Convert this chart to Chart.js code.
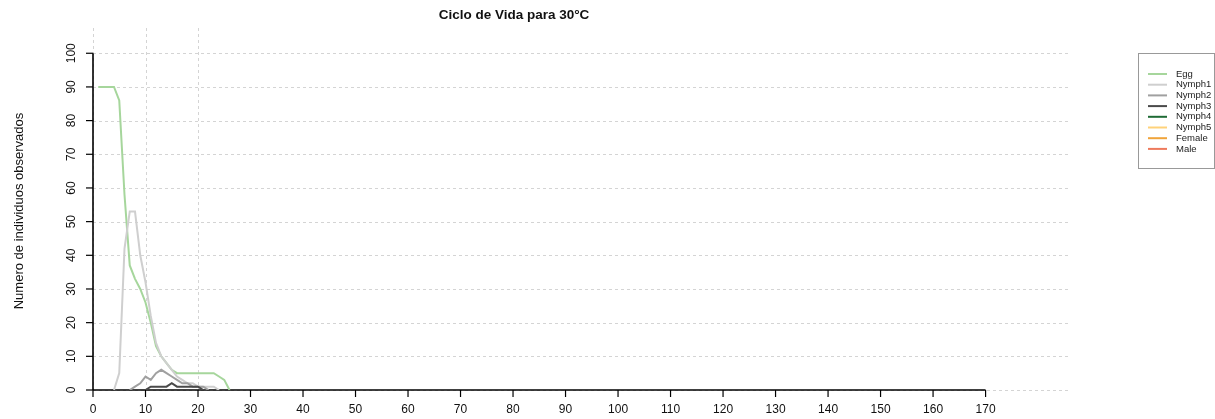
<!DOCTYPE html>
<html lang="es">
<head>
<meta charset="UTF-8" />
<title>Ciclo de Vida para 30°C</title>
<script src="https://cdn.jsdelivr.net/npm/chart.js@4.4.0/dist/chart.umd.min.js"></script>
<style>
  html, body { margin: 0; padding: 0; background: #fff; }
</style>
</head>
<body>
<canvas id="lifeCycle" width="1215" height="419"></canvas>
<script>
// days observed (x) and counts per stage (null = no observation)
const days = [0, 1, 2, 3, 4, 5, 6, 7, 8, 9, 10, 11, 12, 13, 14, 15, 16, 17, 18, 19, 20, 21, 22, 23, 24, 25, 26];
const egg    = [null, 90, 90, 90, 90, 86, 58, 37, 33, 30, 26, 20, 13, 10, 8, 6, 5, 5, 5, 5, 5, 5, 5, 5, 4, 3, 0];
const nymph1 = [null, null, null, null, 0, 5, 42, 53, 53, 40, 32, 22, 14, 10, 8, 6, 4, 3, 2, 2, 1, 1, 1, 1, 0, null, null];
const nymph2 = [null, null, null, null, null, null, null, 0, 1, 2, 4, 3, 5, 6, 5, 4, 3, 2, 2, 1, 1, 1, 0, null, null, null, null];
const nymph3 = [null, null, null, null, null, null, null, null, null, null, 0, 1, 1, 1, 1, 2, 1, 1, 1, 1, 1, 0, null, null, null, null, null];
const nymph4 = [];
const nymph5 = [];
const female = [];
const male   = [];

const stageNames = ["Egg", "Nymph1", "Nymph2", "Nymph3", "Nymph4", "Nymph5", "Female", "Male"];
const stageColors = ["#a6d69c", "#cfcfcf", "#a0a0a0", "#4a4a4a", "#1f6b35", "#ffd27a", "#f0a43a", "#ee7a5c"];
const stageSeries = [egg, nymph1, nymph2, nymph3, nymph4, nymph5, female, male];

const xTicks = [0, 10, 20, 30, 40, 50, 60, 70, 80, 90, 100, 110, 120, 130, 140, 150, 160, 170];
const yTicks = [0, 10, 20, 30, 40, 50, 60, 70, 80, 90, 100];
const xGrid = [0, 10, 20];

const FONT = '"Liberation Sans", Arial, sans-serif';

const datasets = stageSeries.map((vals, i) => ({
    label: stageNames[i],
    data: vals.map((v, k) => ({ x: days[k], y: v })),
    borderColor: stageColors[i],
    backgroundColor: stageColors[i],
    borderWidth: 2,
    pointRadius: 0,
    tension: 0,
    spanGaps: false,
    order: stageNames.length - i,
}));

const rPlot = {
    id: "rPlot",
    beforeDraw(chart) {
        const ctx = chart.ctx;
        ctx.save();
        ctx.fillStyle = "#fff";
        ctx.fillRect(0, 0, chart.width, chart.height);
        ctx.restore();
    },
    beforeDatasetsDraw(chart) {
        const { ctx, chartArea: a, scales: { x, y } } = chart;
        ctx.save();
        // dashed grid
        ctx.strokeStyle = "#d4d4d4";
        ctx.lineWidth = 1;
        ctx.setLineDash([3, 3]);
        yTicks.forEach(v => {
            const py = Math.round(y.getPixelForValue(v)) + 0.5;
            ctx.beginPath();
            ctx.moveTo(a.left, py);
            ctx.lineTo(a.right, py);
            ctx.stroke();
        });
        xGrid.forEach(v => {
            const px = Math.round(x.getPixelForValue(v)) + 0.5;
            ctx.beginPath();
            ctx.moveTo(px, a.top);
            ctx.lineTo(px, a.bottom);
            ctx.stroke();
        });
        ctx.setLineDash([]);

        // axes
        const x0 = x.getPixelForValue(0);
        const y0 = y.getPixelForValue(0);
        ctx.strokeStyle = "#000";
        ctx.lineWidth = 1.6;
        ctx.beginPath();
        ctx.moveTo(x0, y0);
        ctx.lineTo(x.getPixelForValue(xTicks[xTicks.length - 1]), y0);
        ctx.stroke();
        ctx.beginPath();
        ctx.moveTo(x0, y0);
        ctx.lineTo(x0, y.getPixelForValue(yTicks[yTicks.length - 1]));
        ctx.stroke();

        ctx.lineWidth = 1.2;
        ctx.fillStyle = "#111";
        ctx.font = "12px " + FONT;
        ctx.textAlign = "center";
        ctx.textBaseline = "middle";
        xTicks.forEach(v => {
            const px = x.getPixelForValue(v);
            ctx.beginPath();
            ctx.moveTo(px, y0);
            ctx.lineTo(px, y0 + 7);
            ctx.stroke();
            ctx.fillText(String(v), px, y0 + 20);
        });
        yTicks.forEach(v => {
            const py = y.getPixelForValue(v);
            ctx.beginPath();
            ctx.moveTo(x0, py);
            ctx.lineTo(x0 - 7, py);
            ctx.stroke();
            ctx.save();
            ctx.translate(x0 - 21, py);
            ctx.rotate(-Math.PI / 2);
            ctx.fillText(String(v), 0, 0);
            ctx.restore();
        });
        ctx.restore();
    },
    afterDraw(chart) {
        const ctx = chart.ctx;
        ctx.save();
        // title
        ctx.fillStyle = "#111";
        ctx.textAlign = "center";
        ctx.textBaseline = "middle";
        ctx.font = "bold 13.5px " + FONT;
        ctx.fillText("Ciclo de Vida para 30°C", 514, 15);

        // y axis title
        ctx.font = "13px " + FONT;
        ctx.save();
        ctx.translate(19, 211);
        ctx.rotate(-Math.PI / 2);
        ctx.fillText("Numero de individuos observados", 0, 0);
        ctx.restore();

        // legend
        ctx.strokeStyle = "#999";
        ctx.lineWidth = 1;
        ctx.strokeRect(1138.5, 53.5, 76, 115);
        ctx.font = "9.5px " + FONT;
        ctx.textAlign = "left";
        chart.data.datasets.forEach((ds, i) => {
            const ly = 74 + i * 10.7;
            ctx.strokeStyle = ds.borderColor;
            ctx.lineWidth = 2;
            ctx.beginPath();
            ctx.moveTo(1148, ly);
            ctx.lineTo(1167, ly);
            ctx.stroke();
            ctx.fillStyle = "#222";
            ctx.fillText(ds.label, 1176, ly);
        });
        ctx.restore();
    },
};

new Chart(document.getElementById("lifeCycle"), {
    type: "line",
    data: { datasets },
    options: {
        responsive: false,
        devicePixelRatio: 1,
        animation: false,
        layout: { padding: { left: 93, right: 147, top: 28, bottom: 29 } },
        scales: {
            x: { type: "linear", min: 0, max: 185.7, display: false },
            y: { type: "linear", min: 0, max: 107.5, display: false },
        },
        plugins: {
            legend: { display: false },
            title: { display: false },
            tooltip: { enabled: false },
        },
    },
    plugins: [rPlot],
});
</script>
</body>
</html>
